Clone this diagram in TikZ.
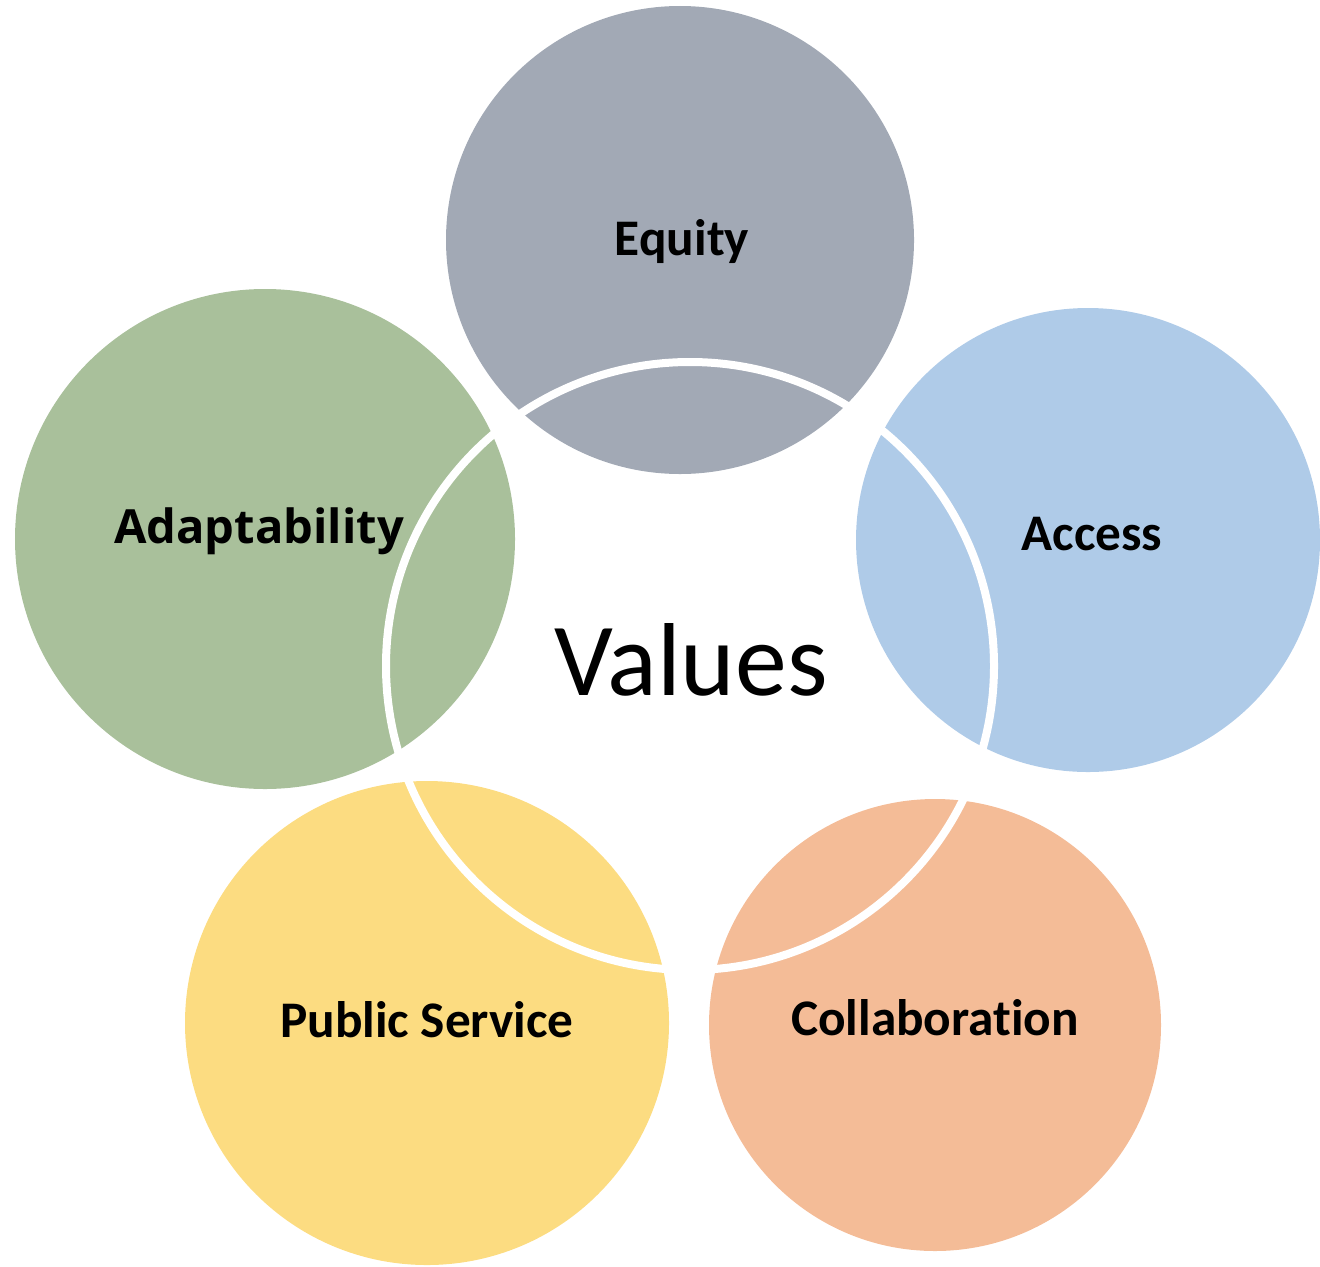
\documentclass[tikz,border=0pt]{standalone}
\usepackage{fontspec}
\setmainfont{Carlito}[Ligatures=NoCommon]
\newfontfamily\adaptfont{Open Sans}
\usepackage{tikz}
\definecolor{eqgrau}{HTML}{A2A9B5}
\definecolor{acblau}{HTML}{AFCBE8}
\definecolor{colorange}{HTML}{F4BC97}
\definecolor{psgelb}{HTML}{FCDC81}
\definecolor{adgruen}{HTML}{A9C09B}
\tikzset{
  kreis/.style={circle,inner sep=0pt,draw=none},
  beschriftung/.style={anchor=base,font=\fontsize{14.6pt}{16pt}\bfseries\selectfont,text=black}
}

\begin{document}
\begin{tikzpicture}
  \useasboundingbox (0,0) rectangle (13.2,12.66);
  % die fuenf Kreise
  \node[kreis,fill=eqgrau,minimum size=4.68cm] (equity) at (6.80,10.26) {};
  \node[kreis,fill=acblau,minimum size=4.64cm] (access) at (10.88,7.26) {};
  \node[kreis,fill=colorange,minimum size=4.52cm] (collab) at (9.35,2.41) {};
  \node[kreis,fill=psgelb,minimum size=4.84cm] (public) at (4.27,2.43) {};
  \node[kreis,fill=adgruen,minimum size=5.00cm] (adapt) at (2.65,7.27) {};
  % weisser Mittelkreis
  \node[kreis,draw=white,line width=0.08cm,minimum size=6.08cm] (mitte) at (6.90,6.00) {};
  % Texte
  \node[beschriftung] (equitytxt) at (6.82,10.11) {Equity};
  \node[beschriftung] (accesstxt) at (10.92,7.16) {Access};
  \node[beschriftung] (collabtxt) at (9.35,2.31) {Collaboration};
  \node[beschriftung] (publictxt) at (4.27,2.29) {Public Service};
  \node[beschriftung,font=\fontsize{13.4pt}{15pt}\adaptfont\bfseries] (adapttxt) at (2.59,7.23) {Adaptability};
  \node[anchor=base,font=\fontsize{29.5pt}{32pt}\selectfont] (values) at (6.91,5.71) {Values};
\end{tikzpicture}
\end{document}
